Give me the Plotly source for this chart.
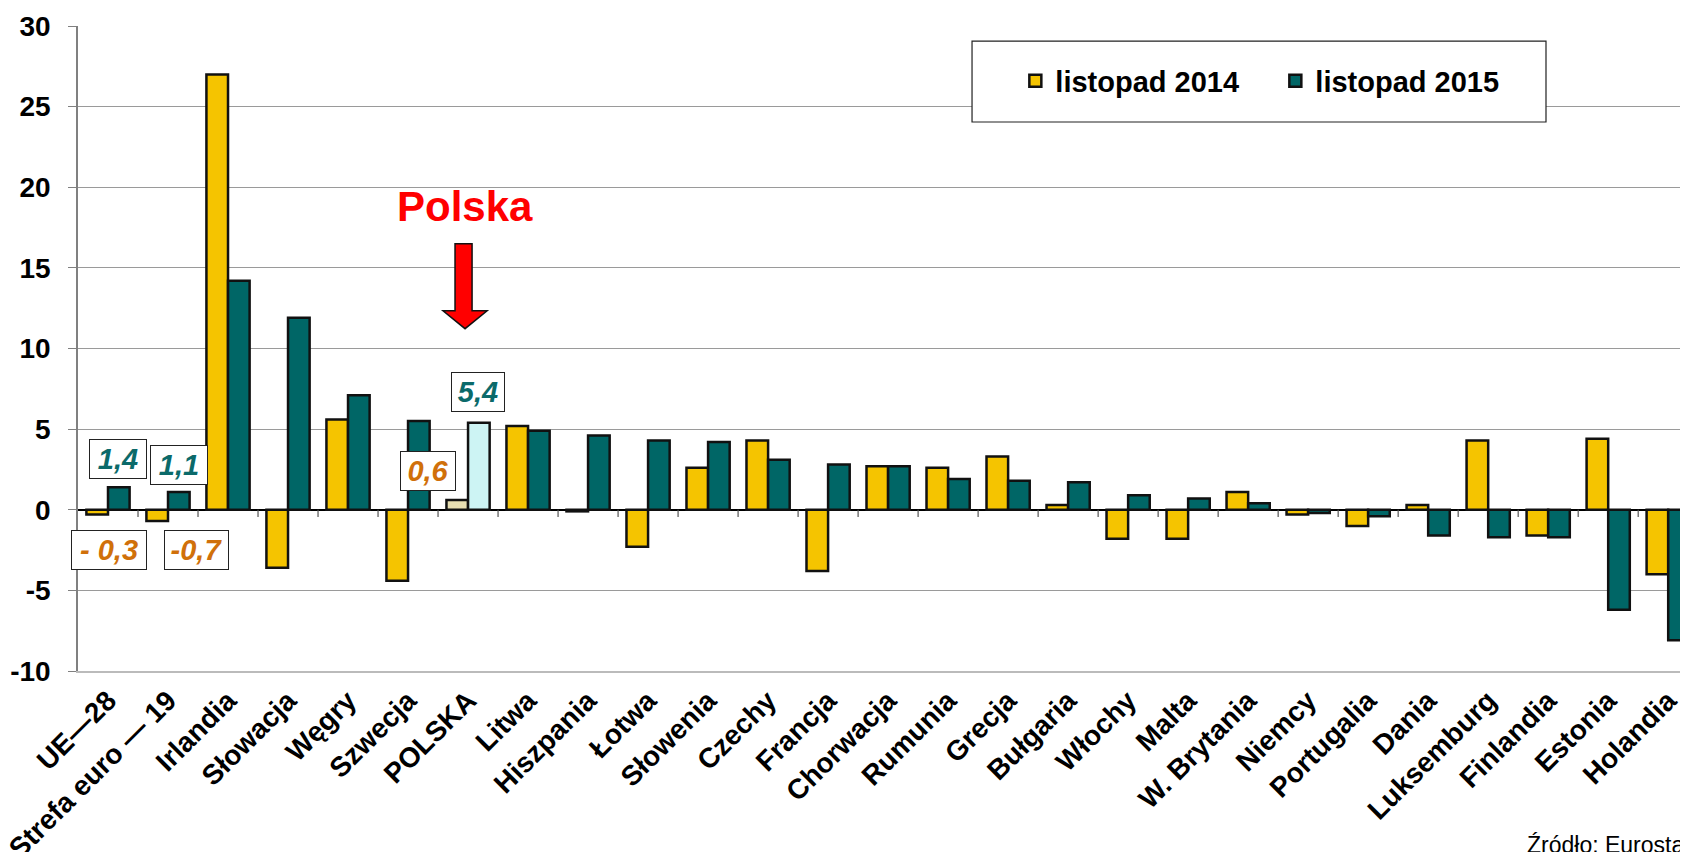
import plotly.graph_objects as go

countries = ["UE—28", "Strefa euro — 19", "Irlandia", "Słowacja", "Węgry", "Szwecja",
             "POLSKA", "Litwa", "Hiszpania", "Łotwa", "Słowenia", "Czechy", "Francja",
             "Chorwacja", "Rumunia", "Grecja", "Bułgaria", "Włochy", "Malta",
             "W. Brytania", "Niemcy", "Portugalia", "Dania", "Luksemburg", "Finlandia",
             "Estonia", "Holandia"]
nov_2014 = [-0.3, -0.7, 27.0, -3.6, 5.6, -4.4, 0.6, 5.2, -0.1, -2.3, 2.6, 4.3, -3.8,
            2.7, 2.6, 3.3, 0.3, -1.8, -1.8, 1.1, -0.3, -1.0, 0.3, 4.3, -1.6, 4.4, -4.0]
nov_2015 = [1.4, 1.1, 14.2, 11.9, 7.1, 5.5, 5.4, 4.9, 4.6, 4.3, 4.2, 3.1, 2.8,
            2.7, 1.9, 1.8, 1.7, 0.9, 0.7, 0.4, -0.2, -0.4, -1.6, -1.7, -1.7, -6.2, -8.1]
series_names = ["listopad 2014", "listopad 2015"]
y_ticks = [-10, -5, 0, 5, 10, 15, 20, 25, 30]
y_tick_labels = ["-10", "-5", "0", "5", "10", "15", "20", "25", "30"]

FONT = "Liberation Sans"
GOLD = "#F5C400"
TEAL = "#006666"
GOLD_PL = "#E8DFB2"
TEAL_PL = "#CDF4F4"
TEAL_TXT = "#0B6A6A"
ORANGE_TXT = "#D0700A"

n = len(countries)
x = list(range(n))
colors14 = [GOLD_PL if c == "POLSKA" else GOLD for c in countries]
colors15 = [TEAL_PL if c == "POLSKA" else TEAL for c in countries]

fig = go.Figure()
fig.add_trace(go.Bar(x=x, y=nov_2014, name=series_names[0],
                     marker=dict(color=colors14, line=dict(color="#111", width=2.5))))
fig.add_trace(go.Bar(x=x, y=nov_2015, name=series_names[1],
                     marker=dict(color=colors15, line=dict(color="#111", width=2.5))))

shapes = []
# category tick marks on the zero line
for k in range(1, n):
    shapes.append(dict(type="line", xref="x", yref="y", x0=k - 0.5, x1=k - 0.5,
                       y0=0, y1=-0.45, line=dict(color="#555", width=1.2)))
# legend box
shapes.append(dict(type="rect", xref="paper", yref="paper", x0=0.5553, x1=0.9118,
                   y0=0.8512, y1=0.9767, fillcolor="white",
                   line=dict(color="#222", width=1.2), layer="above"))
# red arrow
shapes.append(dict(type="path", xref="x", yref="y",
                   path="M 5.783,16.5 L 6.067,16.5 L 6.067,12.34 L 6.317,12.34 "
                        "L 5.95,11.23 L 5.583,12.34 L 5.783,12.34 Z",
                   fillcolor="#FF0000", line=dict(color="#111", width=1.5), layer="above"))

annotations = []
def box(text, xx, yy, color, w):
    annotations.append(dict(x=xx, y=yy, xref="x", yref="y", showarrow=False,
                            text="<b><i>" + text + "</i></b>",
                            font=dict(family=FONT, size=29, color=color),
                            bgcolor="white", bordercolor="#222", borderwidth=1,
                            borderpad=3, width=w, height=32))

box("1,4", 0.167, 3.13, TEAL_TXT, 50)
box("1,1", 1.183, 2.79, TEAL_TXT, 50)
box("- 0,3", 0.017, -2.48, ORANGE_TXT, 68)
box("-0,7", 1.47, -2.48, ORANGE_TXT, 57)
box("0,6", 5.33, 2.42, ORANGE_TXT, 48)
box("5,4", 6.17, 7.32, TEAL_TXT, 46)

annotations.append(dict(x=5.95, y=18.82, xref="x", yref="y", showarrow=False,
                        text="<b>Polska</b>",
                        font=dict(family=FONT, size=42, color="#FF0000")))
annotations.append(dict(x=0.899, y=-0.27, xref="paper", yref="paper", showarrow=False,
                        xanchor="left", yanchor="middle", text="Źródło: Eurostat",
                        font=dict(family=FONT, size=23, color="black")))

# page body has an 8px margin: compensate so the plot lands where the reference has it
fig.update_layout(
    width=1680, height=844,
    margin=dict(l=70, r=0, t=18, b=181, autoexpand=False),
    paper_bgcolor="white", plot_bgcolor="white",
    barmode="group", bargap=0.28, bargroupgap=0.0,
    showlegend=True,
    legend=dict(orientation="h", x=0.5822, y=0.915, xanchor="left", yanchor="middle",
                bgcolor="rgba(0,0,0,0)", borderwidth=0,
                font=dict(family=FONT, size=29, color="black", weight="bold"),
                entrywidth=215, entrywidthmode="pixels"),
    shapes=shapes, annotations=annotations,
    font=dict(family=FONT, color="black"),
)
fig.update_xaxes(range=[-0.5, 26.33], tickmode="array", tickvals=x, ticktext=countries,
                 tickangle=-45, ticklabeloverflow="allow", automargin=False,
                 tickfont=dict(family=FONT, size=28, color="black", weight="bold"),
                 showgrid=False, zeroline=False, showline=True, linecolor="#BBBBBB",
                 linewidth=2, ticks="")
fig.update_yaxes(range=[-10, 30], tickmode="array", tickvals=y_ticks, ticktext=y_tick_labels,
                 automargin=False, ticklabelstandoff=12,
                 tickfont=dict(family=FONT, size=28, color="black", weight="bold"),
                 showgrid=True, gridcolor="#9A9A9A", gridwidth=1,
                 zeroline=True, zerolinecolor="black", zerolinewidth=1.5,
                 showline=True, linecolor="#808080", linewidth=1.5,
                 ticks="outside", ticklen=8, tickcolor="#808080")

fig.write_html("out.html")
